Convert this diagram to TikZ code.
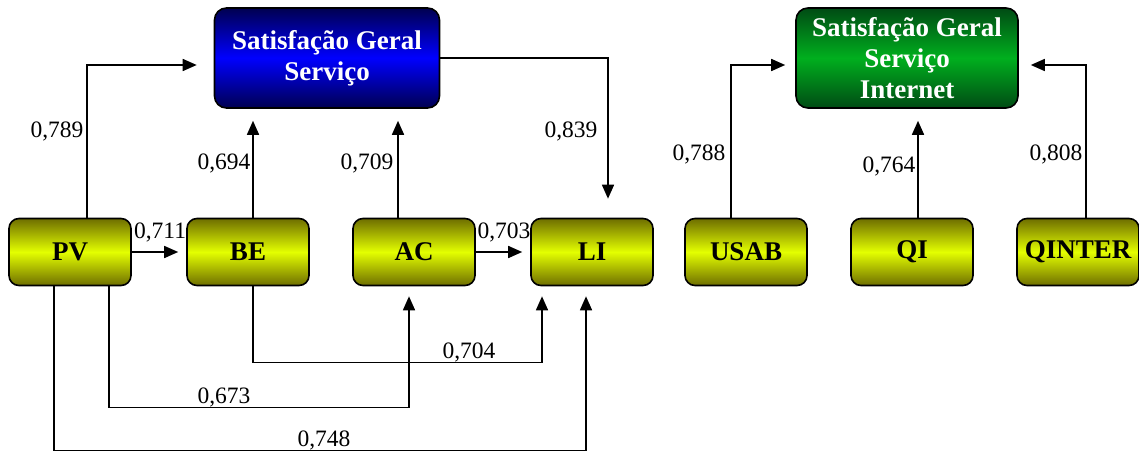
\documentclass[tikz,border=0pt]{standalone}
\usepackage{fontspec}
\setmainfont{Liberation Serif}
\usetikzlibrary{arrows.meta,positioning,calc}
\definecolor{ylwdark}{RGB}{110,110,0}
\definecolor{ylwlight}{RGB}{228,255,0}
\definecolor{bludark}{RGB}{0,0,80}
\definecolor{blulight}{RGB}{0,0,255}
\definecolor{grndark}{RGB}{0,75,20}
\definecolor{grnlight}{RGB}{0,175,30}
\tikzset{
  var/.style ={draw, line width=1.6pt, rounded corners=10pt, top color=ylwdark, bottom color=ylwdark, middle color=ylwlight,
               minimum width=122pt, minimum height=67pt, inner sep=0pt, font=\fontsize{27}{30}\selectfont\bfseries},
  sat/.style ={draw, line width=1.6pt, rounded corners=12pt, minimum height=100pt, inner sep=0pt, align=center, text=white,
               font=\fontsize{27}{31}\selectfont\bfseries},
  link/.style={-{Triangle[length=14pt,width=12pt]}, line width=1.6pt},
  coef/.style={font=\fontsize{23.5}{25}\selectfont, inner sep=0pt}
}

\begin{document}
\begin{tikzpicture}[x=1pt, y=-1pt]
  \useasboundingbox (0,0) rectangle (1139,452);
  % outcome boxes
  \node[sat, minimum width=225pt, top color=bludark, bottom color=bludark, middle color=blulight] (SG) at (327,58) {Satisfação Geral\\Serviço};
  \node[sat, minimum width=222pt, top color=grndark, bottom color=grndark, middle color=grnlight] (SGI) at (907,58) {Satisfação Geral\\Serviço\\Internet};
  % variables
  \node[var] (PV)     at (70,252)   {PV};
  \node[var] (BE)     at (248,252)  {BE};
  \node[var] (AC)     at (414,252)  {AC};
  \node[var] (LI)     at (592,252)  {LI};
  \node[var] (USAB)   at (746,252)  {USAB};
  \node[var] (QI)     at (912,252)  {QI};
  \node[var] (QINTER) at (1078,252) {QINTER};
  % links to Satisfação Geral Serviço
  \draw[link] ([xshift=17pt]PV.north) |- ([xshift=-17pt,yshift=-7pt]SG.west);
  \draw[link] ([xshift=5pt]BE.north) -- ([xshift=5pt,yshift=-12pt]BE.north |- SG.south);
  \draw[link] ([xshift=-16pt]AC.north) -- ([xshift=-16pt,yshift=-12pt]AC.north |- SG.south);
  \draw[link] (SG.east) -| ([xshift=16pt,yshift=19pt]LI.north);
  \draw[link, shorten >=8pt] (PV.east) -- (BE.west);
  \draw[link, shorten >=8pt] (AC.east) -- (LI.west);
  \draw[link, shorten >=10pt] ([xshift=5pt]BE.south) -- ++(0,76) -| ([xshift=-50pt]LI.south);
  \draw[link, shorten >=10pt] ([xshift=39pt]PV.south) -- ++(0,121) -| ([xshift=-5pt]AC.south);
  \draw[link, shorten >=10pt] ([xshift=-16pt]PV.south) -- ++(0,164) -| ([xshift=-6pt]LI.south);
  % links to Satisfação Geral Serviço Internet
  \draw[link] ([xshift=-15pt]USAB.north) |- ([xshift=-10pt,yshift=-7pt]SGI.west);
  \draw[link] ([xshift=6pt]QI.north) -- ([xshift=6pt,yshift=-12pt]QI.north |- SGI.south);
  \draw[link] ([xshift=8pt]QINTER.north) |- ([xshift=12pt,yshift=-7pt]SGI.east);
  % coefficients
  \node[coef] (c1)  at (57,131)   {0,789};
  \node[coef] (c2)  at (224,163)  {0,694};
  \node[coef] (c3)  at (367,163)  {0,709};
  \node[coef] (c4)  at (571,131)  {0,839};
  \node[coef] (c5)  at (160,232)  {0,711};
  \node[coef] (c6)  at (504,232)  {0,703};
  \node[coef] (c7)  at (469,352)  {0,704};
  \node[coef] (c8)  at (224,397)  {0,673};
  \node[coef] (c9)  at (324,440)  {0,748};
  \node[coef] (c10) at (699,154)  {0,788};
  \node[coef] (c11) at (889,166)  {0,764};
  \node[coef] (c12) at (1056,154) {0,808};
\end{tikzpicture}
\end{document}
